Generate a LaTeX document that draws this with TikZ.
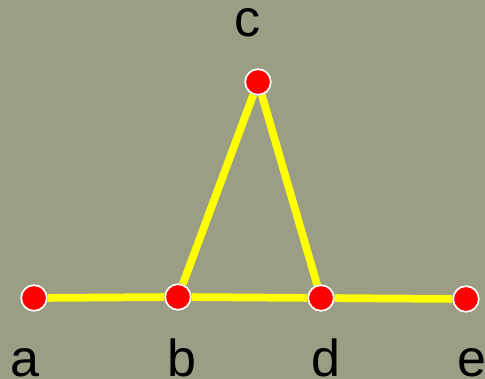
\documentclass[tikz,border=0pt]{standalone}
\usepackage{fontspec}
\setmainfont{Liberation Sans}
\definecolor{bgolive}{HTML}{9B9D85}
\definecolor{gyellow}{HTML}{FFFF00}
\definecolor{gred}{HTML}{FF0000}
\begin{document}
\begin{tikzpicture}[
  x=0.025cm, y=-0.025cm,
  vtx/.style={circle,draw=white,line width=1.2pt,fill=gred,minimum size=0.64cm,inner sep=0pt},
  edg/.style={draw=gyellow,line width=5.5pt},
  lbl/.style={anchor=base,inner sep=0pt,font=\fontsize{37}{40}\selectfont}]

% background
\fill[bgolive] (0,0) rectangle (485,379);
\useasboundingbox (0,0) rectangle (485,379);

% vertices
\node[vtx] (a) at (34,298) {};
\node[vtx] (b) at (178,297) {};
\node[vtx] (c) at (258,82) {};
\node[vtx] (d) at (321,298) {};
\node[vtx] (e) at (466,299) {};

% edges
\draw[edg] (a) -- (b);
\draw[edg] (b) -- (c);
\draw[edg] (c) -- (d);
\draw[edg] (b) -- (d);
\draw[edg] (d) -- (e);

% labels
\node[lbl] (la) at (25,376) {a};
\node[lbl] (lb) at (182,376) {b};
\node[lbl] (lc) at (248,37) {c};
\node[lbl] (ld) at (326,376) {d};
\node[lbl] (le) at (472,376) {e};
\end{tikzpicture}
\end{document}
